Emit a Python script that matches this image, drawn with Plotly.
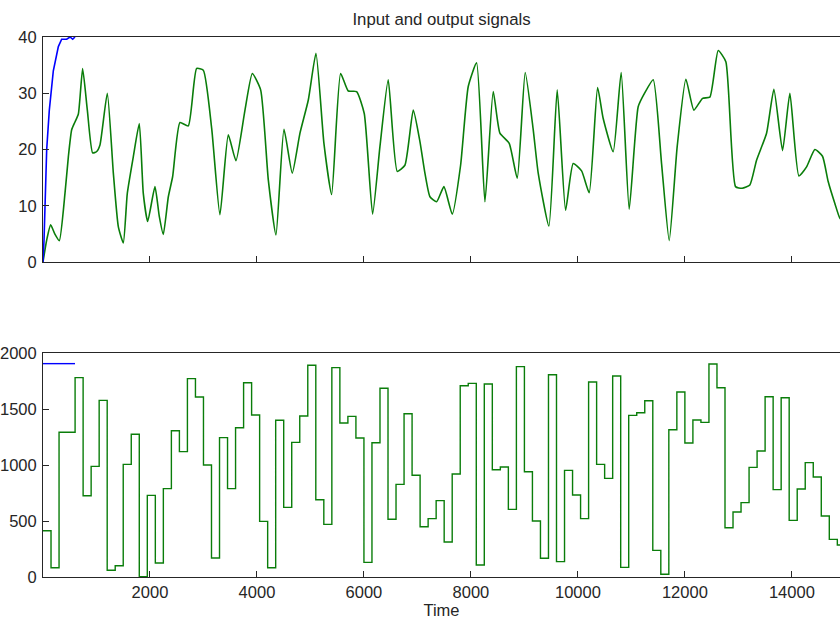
import plotly.graph_objects as go
from plotly.subplots import make_subplots

# ---------------- data ----------------
# top panel: output signal (green)
out_t = [0, 69, 143, 220, 305, 411, 474, 536, 598, 661, 741, 829, 928, 1000, 1065, 1202,
         1315, 1408, 1501, 1576, 1688, 1800, 1875, 1957, 2093, 2174, 2249, 2343, 2424,
         2561, 2716, 2872, 2997, 3153, 3308, 3464, 3607, 3776, 3913, 4069, 4212, 4355,
         4505, 4660, 4804, 4960, 5103, 5252, 5396, 5564, 5707, 5863, 6006, 6162, 6299,
         6454, 6623, 6766, 6922, 7047, 7140, 7234, 7359, 7495, 7651, 7807, 7950, 8106,
         8262, 8417, 8542, 8716, 8866, 9015, 9165, 9258, 9458, 9613, 9770, 9912, 10069,
         10211, 10368, 10473, 10660, 10809, 10959, 11127, 11252, 11408, 11564, 11707,
         11856, 12019, 12168, 12331, 12467, 12623, 12766, 12947, 13071, 13215, 13340,
         13527, 13664, 13826, 13963, 14131, 14275, 14430, 14573, 14679, 14804, 14897, 15000]
out_v = [0, 3.9, 6.6, 5.0, 3.8, 12.2, 18.7, 23.5, 24.9, 26.3, 34.4, 27.0, 19.4, 19.6, 20.8, 30.0,
         15.8, 6.3, 3.4, 12.2, 18.7, 24.6, 12.2, 7.2, 13.4, 8.1, 4.9, 11.6, 15.2,
         24.8, 24.2, 34.4, 34.1, 23.8, 8.4, 22.6, 18.0, 27.0, 33.5, 30.6, 14.6, 4.8,
         23.6, 15.8, 22.9, 28.8, 37.1, 21.1, 12.0, 33.5, 30.4, 30.3, 26.4, 8.5, 20.5,
         32.4, 16.1, 17.2, 27.0, 21.4, 15.8, 11.6, 10.7, 13.4, 8.5, 17.2, 31.2, 35.4,
         10.7, 30.3, 22.9, 21.1, 14.9, 33.7, 23.5, 15.8, 6.4, 30.6, 9.2, 17.5, 16.2,
         12.3, 31.0, 25.5, 19.6, 33.7, 9.4, 27.6, 30.1, 32.4, 17.5, 3.8,
         20.5, 32.5, 27.0, 29.1, 29.3, 37.6, 35.6, 13.4, 13.1, 13.7, 18.1,
         22.9, 30.7, 19.8, 30.0, 15.3, 16.9, 20.0, 18.8, 14.3, 10.4, 7.8, 7.0]

# top panel: reference / set-point response (blue)
ref_t = [0, 19, 69, 118, 193, 287, 349, 443, 505, 555, 598]
ref_v = [0, 3.9, 20.0, 27.0, 34.0, 38.3, 39.6, 39.6, 40.0, 39.6, 40.0]

# bottom panel: input signal (green, piecewise constant)
in_levels = [413, 83, 1292, 1292, 1780, 726, 988, 1577, 60, 101,
             1006, 1274, 3, 729, 125, 789, 1306, 1119, 1771, 1607,
             1000, 170, 1244, 789, 1333, 1735, 1446, 497, 83, 1399,
             622, 1202, 1437, 1890, 690, 470, 1869, 1375, 1434, 1241,
             131, 1199, 1685, 515, 827, 1458, 908, 449, 521, 682,
             312, 920, 1708, 1729, 107, 1723, 958, 982, 604, 1878,
             940, 500, 167, 1806, 137, 952, 732, 521, 1741, 1006,
             881, 1795, 86, 1443, 1467, 1574, 238, 24, 1315, 1652,
             1196, 1402, 1381, 1902, 1690, 440, 580, 664, 979, 1125,
             1610, 780, 1601, 506, 786, 1021, 893, 545, 336, 286]
in_t = list(range(0, 15001, 150))

# bottom panel: blue constant input
ref_in_t = [0, 598]
ref_in_v = [1905, 1905]

top_ticks = [0, 10, 20, 30, 40]
bot_ticks = [0, 500, 1000, 1500, 2000]
x_ticks = [2000, 4000, 6000, 8000, 10000, 12000, 14000]
x_ticktext = ["2000", "4000", "6000", "8000", "10000", "12000", "14000"]

# ---------------- figure ----------------
GREEN = "#0a7d0a"
BLUE = "#0000ff"
AX = "#262626"
FONT = "Liberation Sans, Arial, sans-serif"
FS = 16.5

W, H = 840, 623

fig = make_subplots(rows=2, cols=1)

fig.add_trace(go.Scatter(x=out_t, y=out_v, mode="lines",
                         line=dict(color=GREEN, width=1.6, shape="spline", smoothing=0.5)),
              row=1, col=1)
fig.add_trace(go.Scatter(x=ref_t, y=ref_v, mode="lines",
                         line=dict(color=BLUE, width=1.6)), row=1, col=1)
fig.add_trace(go.Scatter(x=in_t, y=in_levels + [in_levels[-1]], mode="lines",
                         line=dict(color=GREEN, width=1.4, shape="hv")), row=2, col=1)
fig.add_trace(go.Scatter(x=ref_in_t, y=ref_in_v, mode="lines",
                         line=dict(color=BLUE, width=1.4)), row=2, col=1)

common_x = dict(range=[0, 14900], tickvals=x_ticks, ticktext=x_ticktext,
                ticks="inside", ticklen=6, automargin=False,
                tickcolor=AX, showline=True, linecolor=AX, linewidth=1, mirror=True,
                showgrid=False, zeroline=False, domain=[0, 1])
common_y = dict(ticks="inside", ticklen=6, tickcolor=AX, showline=True, linecolor=AX,
                linewidth=1, mirror=True, showgrid=False, zeroline=False,
                automargin=False, ticklabelstandoff=2)

def ydom(top_px, bot_px):
    return [1 - bot_px / H, 1 - top_px / H]

fig.update_xaxes(**common_x, showticklabels=False, row=1, col=1)
fig.update_xaxes(**common_x, showticklabels=True, row=2, col=1,
                 title=dict(text="Time", standoff=0, font=dict(size=FS, color=AX)))
fig.update_yaxes(**common_y, range=[0, 40], tickvals=top_ticks,
                 domain=ydom(37, 262), row=1, col=1)
fig.update_yaxes(**common_y, range=[0, 2000], tickvals=bot_ticks,
                 domain=ydom(353, 577), row=2, col=1)

fig.update_layout(
    template="none",
    width=W, height=H,
    margin=dict(l=43, r=0, t=0, b=0, autoexpand=False),
    paper_bgcolor="white", plot_bgcolor="white",
    showlegend=False,
    font=dict(family=FONT, size=FS, color=AX),
    title=dict(text="Input and output signals", x=0.5, xref="paper",
               y=1 - 19.5 / H, yref="container", yanchor="middle",
               font=dict(size=16.8, color=AX)),
)

# remove the default page margin so the figure sits at the window's top-left corner
fig.write_html("out.html",
               config={"displayModeBar": False},
               post_script="document.body.style.margin='0';document.body.style.overflow='hidden';")
